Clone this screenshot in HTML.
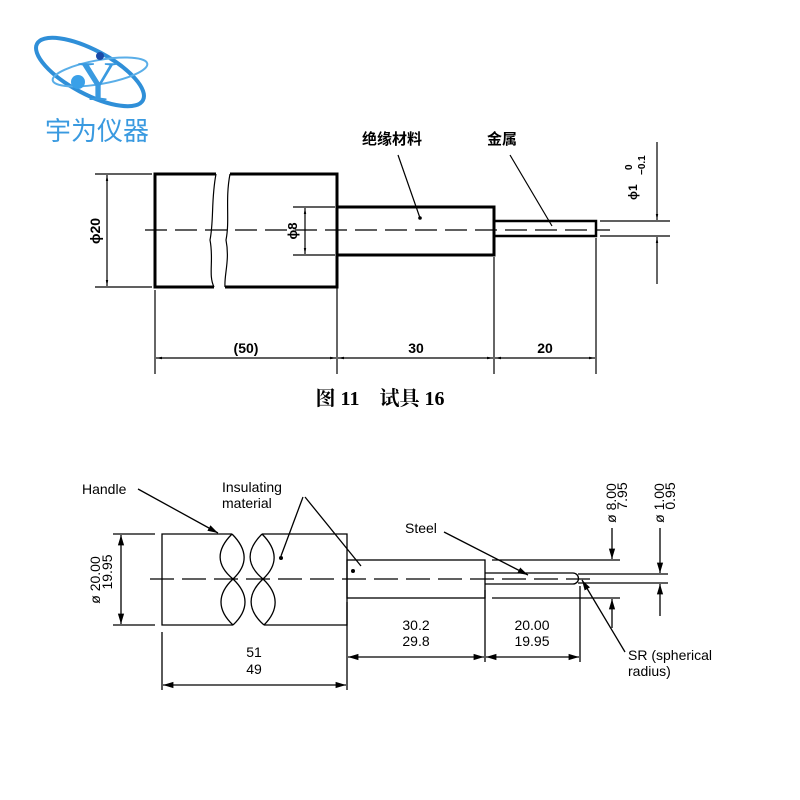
<!DOCTYPE html>
<html><head><meta charset="utf-8"><style>
html,body{margin:0;padding:0;background:#fff;}
svg{display:block;}
.t{font-family:"Liberation Sans","Noto Sans CJK SC",sans-serif;}
</style></head><body>
<svg width="800" height="800" viewBox="0 0 800 800" xmlns="http://www.w3.org/2000/svg">
<defs>
<marker id="a" viewBox="0 0 10 10" refX="10" refY="5" markerWidth="8" markerHeight="8" orient="auto-start-reverse"><path d="M0,2 L10,5 L0,8z" fill="#000"/></marker>
<marker id="s" viewBox="0 0 10 10" refX="10" refY="5" markerWidth="5" markerHeight="5" orient="auto-start-reverse"><path d="M0,3 L10,5 L0,7z" fill="#000"/></marker>
</defs>
<!-- logo -->
<ellipse cx="90" cy="72" rx="60" ry="22" transform="rotate(28 90 72)" fill="none" stroke="#2f8fd8" stroke-width="4"/>
<ellipse cx="100" cy="72" rx="48" ry="12" transform="rotate(-10 100 72)" fill="none" stroke="#5aaee8" stroke-width="2"/>
<text x="98" y="100" font-family="Liberation Serif,serif" font-size="56" fill="#3a9ae0" text-anchor="middle">Y</text>
<circle cx="78" cy="82" r="7" fill="#3aa0e8"/>
<circle cx="100" cy="56" r="4" fill="#1a4aa8"/>
<text x="97" y="140" class="t" font-size="26" fill="#3a9ae0" text-anchor="middle">宇为仪器</text>

<g stroke="#000" fill="none">
<path d="M216,174 H155 V287 H214" stroke-width="3"/>
<path d="M216,174 C211,200 214,220 210,240 C214,260 208,275 214,287" stroke-width="1.2"/>
<path d="M230,174 H337 V287 H225" stroke-width="3"/>
<path d="M230,174 C225,200 230,220 226,240 C230,260 224,275 225,287" stroke-width="1.2"/>
<rect x="337" y="207" width="157" height="48" stroke-width="3"/>
<rect x="494" y="221" width="102" height="15" stroke-width="2.5"/>
<line x1="145" y1="230" x2="610" y2="230" stroke-width="1.2" stroke-dasharray="22,8"/>
<line x1="95" y1="174" x2="152" y2="174" stroke-width="1.2"/>
<line x1="95" y1="287" x2="152" y2="287" stroke-width="1.2"/>
<line x1="107" y1="175" x2="107" y2="286" stroke-width="1.2" marker-start="url(#s)" marker-end="url(#s)"/>
<line x1="293" y1="207" x2="335" y2="207" stroke-width="1.2"/>
<line x1="293" y1="255" x2="335" y2="255" stroke-width="1.2"/>
<line x1="305" y1="208" x2="305" y2="254" stroke-width="1.2" marker-start="url(#s)" marker-end="url(#s)"/>
<line x1="600" y1="221" x2="670" y2="221" stroke-width="1.2"/>
<line x1="600" y1="236" x2="670" y2="236" stroke-width="1.2"/>
<line x1="657" y1="142" x2="657" y2="220" stroke-width="1.2" marker-end="url(#s)"/>
<line x1="657" y1="237" x2="657" y2="284" stroke-width="1.2" marker-start="url(#s)"/>
<line x1="155" y1="290" x2="155" y2="374" stroke-width="1.2"/>
<line x1="337" y1="257" x2="337" y2="374" stroke-width="1.2"/>
<line x1="494" y1="257" x2="494" y2="374" stroke-width="1.2"/>
<line x1="596" y1="238" x2="596" y2="374" stroke-width="1.2"/>
<line x1="156" y1="358" x2="336" y2="358" stroke-width="1.2" marker-start="url(#s)" marker-end="url(#s)"/>
<line x1="338" y1="358" x2="493" y2="358" stroke-width="1.2" marker-start="url(#s)" marker-end="url(#s)"/>
<line x1="495" y1="358" x2="595" y2="358" stroke-width="1.2" marker-start="url(#s)" marker-end="url(#s)"/>
<line x1="398" y1="155" x2="420" y2="218" stroke-width="1.2"/>
<line x1="510" y1="155" x2="552" y2="226" stroke-width="1.2"/>
</g>
<circle cx="420" cy="218" r="1.8"/>
<g class="t" font-weight="bold" fill="#000">
<text x="392" y="144" font-size="15" text-anchor="middle">绝缘材料</text>
<text x="502" y="144" font-size="15" text-anchor="middle">金属</text>
<text x="246" y="353" font-size="14" text-anchor="middle">(50)</text>
<text x="416" y="353" font-size="14" text-anchor="middle">30</text>
<text x="545" y="353" font-size="14" text-anchor="middle">20</text>
<text transform="translate(100,231) rotate(-90)" font-size="14" text-anchor="middle">ϕ20</text>
<text transform="translate(297,231) rotate(-90)" font-size="13" text-anchor="middle">ϕ8</text>
<text transform="translate(637,200) rotate(-90)" font-size="12">ϕ1</text>
<text transform="translate(632,170) rotate(-90)" font-size="10">0</text>
<text transform="translate(645,175) rotate(-90)" font-size="10">−0.1</text>
<text x="380" y="405" font-size="20" text-anchor="middle" font-family="Liberation Serif,Noto Serif CJK SC,serif">图 11　试具 16</text>
</g>

<g stroke="#000" fill="none" stroke-width="1.3">
<path d="M232,534 H162 V625 H233"/>
<path d="M232,534 C216,550 216,565 233,579 C249,594 249,610 233,625"/>
<path d="M232,534 C248,550 248,565 233,579 C217,594 217,610 233,625"/>
<path d="M262,534 H347 V625 H264"/>
<path d="M262,534 C246,550 246,565 263,579 C279,594 279,610 264,625"/>
<path d="M262,534 C278,550 278,565 263,579 C247,594 247,610 264,625"/>
<rect x="347" y="560" width="138" height="38"/>
<path d="M485,573 H573 A5.5,5.5 0 0 1 573,584 H485"/>
<line x1="150" y1="579" x2="590" y2="579" stroke-dasharray="24,8"/>
<line x1="492" y1="560" x2="620" y2="560"/>
<line x1="492" y1="598" x2="620" y2="598"/>
<line x1="578" y1="574" x2="668" y2="574"/>
<line x1="578" y1="583" x2="668" y2="583"/>
<line x1="612" y1="528" x2="612" y2="559" marker-end="url(#a)"/>
<line x1="612" y1="599" x2="612" y2="628" marker-start="url(#a)"/>
<line x1="660" y1="528" x2="660" y2="573" marker-end="url(#a)"/>
<line x1="660" y1="584" x2="660" y2="616" marker-start="url(#a)"/>
<line x1="113" y1="534" x2="155" y2="534"/>
<line x1="113" y1="625" x2="155" y2="625"/>
<line x1="121" y1="535" x2="121" y2="624" marker-start="url(#a)" marker-end="url(#a)"/>
<line x1="162" y1="632" x2="162" y2="690"/>
<line x1="347" y1="602" x2="347" y2="690"/>
<line x1="485" y1="590" x2="485" y2="662"/>
<line x1="580" y1="586" x2="580" y2="662"/>
<line x1="163" y1="685" x2="346" y2="685" marker-start="url(#a)" marker-end="url(#a)"/>
<line x1="348" y1="657" x2="484" y2="657" marker-start="url(#a)" marker-end="url(#a)"/>
<line x1="486" y1="657" x2="579" y2="657" marker-start="url(#a)" marker-end="url(#a)"/>
<line x1="138" y1="489" x2="218" y2="533" marker-end="url(#a)"/>
<line x1="303" y1="497" x2="281" y2="556"/>
<line x1="305" y1="497" x2="361" y2="566"/>
<line x1="444" y1="532" x2="528" y2="575" marker-end="url(#a)"/>
<line x1="625" y1="652" x2="582" y2="580" marker-end="url(#a)"/>
</g>
<circle cx="281" cy="558" r="2"/>
<circle cx="353" cy="571" r="2"/>
<g class="t" fill="#000" font-size="14">
<text x="82" y="494">Handle</text>
<text x="222" y="492">Insulating</text>
<text x="222" y="508">material</text>
<text x="405" y="533">Steel</text>
<text x="628" y="660">SR (spherical</text>
<text x="628" y="676">radius)</text>
<text x="416" y="630" text-anchor="middle">30.2</text>
<text x="416" y="646" text-anchor="middle">29.8</text>
<text x="532" y="630" text-anchor="middle">20.00</text>
<text x="532" y="646" text-anchor="middle">19.95</text>
<text x="254" y="657" text-anchor="middle">51</text>
<text x="254" y="674" text-anchor="middle">49</text>
<text transform="translate(100,580) rotate(-90)" text-anchor="middle">ø 20.00</text>
<text transform="translate(112,572) rotate(-90)" text-anchor="middle">19.95</text>
<text transform="translate(616,503) rotate(-90)" text-anchor="middle">ø 8.00</text>
<text transform="translate(627,496) rotate(-90)" text-anchor="middle">7.95</text>
<text transform="translate(664,503) rotate(-90)" text-anchor="middle">ø 1.00</text>
<text transform="translate(675,496) rotate(-90)" text-anchor="middle">0.95</text>
</g>
</svg>
</body></html>
